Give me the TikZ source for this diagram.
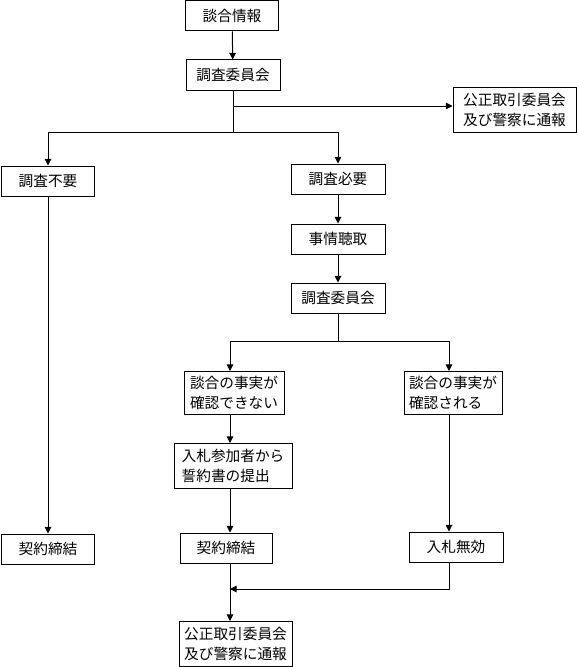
\documentclass[tikz,border=0pt]{standalone}
\usepackage{fontspec}
\setmainfont{Noto Sans CJK JP}
\usetikzlibrary{arrows.meta}
\begin{document}
\begin{tikzpicture}[x=0.75pt,y=-0.75pt,
    box/.style={draw,line width=0.75pt,inner sep=1pt,align=left,
      minimum height=22.5pt,font=\fontsize{11pt}{15pt}\selectfont},
    arr/.style={-{Triangle[length=5pt,width=5pt]},line width=0.75pt},
    ln/.style={line width=0.75pt}]
            \useasboundingbox (0,0) rectangle (577,667);
            \node[box,minimum width=69.75pt] (info) at (232,16) {談合情報};
            \node[box,minimum width=70.5pt] (comm) at (233,75) {調査委員会};
            \node[box,minimum width=92.25pt,minimum height=33pt] (report) at (514.5,110) {公正取引委員会\\及び警察に通報};
            \draw[arr] (info) -- (comm);
            \coordinate (split) at (233,132);
            \coordinate (toreport) at (233,106);
            \draw[ln] (comm) -- (split);
            \draw[arr] (toreport) -- (report.west |- toreport);

            \node[box,minimum width=69.75pt] (noneed) at (48,181) {調査不要};
            \node[box,minimum width=70.5pt] (need) at (338,179) {調査必要};
            \draw[arr] (split) -| (noneed);
            \draw[arr] (split) -| (need);

            \node[box,minimum width=70.5pt] (hear) at (338,239) {事情聴取};
            \node[box,minimum width=70.5pt] (comm2) at (338,298) {調査委員会};
            \draw[arr] (need) -- (hear);
            \draw[arr] (hear) -- (comm2);

            \coordinate (split2) at (338,341);
            \draw[ln] (comm2) -- (split2);
            \node[box,minimum width=75pt,minimum height=32.25pt] (notfound) at (234,393) {談合の事実が\\確認できない};
            \node[box,minimum width=73.5pt,minimum height=32.25pt] (found) at (453,393) {談合の事実が\\確認される};
            \coordinate (colM) at (230,0);
            \coordinate (colR) at (449,0);
            \draw[arr] (split2) -| (notfound.north -| colM);
            \draw[arr] (split2) -| (found.north -| colR);

            \node[box,minimum width=88.5pt,minimum height=33.75pt] (pledge) at (233,466) {入札参加者から\\誓約書の提出};
            \draw[arr] (notfound.south -| colM) -- (pledge.north -| colM);

            \node[box,minimum width=69.75pt] (contract) at (48,549) {契約締結};
            \node[box,minimum width=69pt] (contract2) at (226,548) {契約締結};
            \node[box,minimum width=70.5pt] (invalid) at (456,547) {入札無効};
            \draw[arr] (noneed) -- (contract);
            \draw[arr] (pledge.south -| colM) -- (contract2.north -| colM);
            \draw[arr] (found.south -| colR) -- (invalid.north -| colR);

            \node[box,minimum width=84.75pt,minimum height=33.75pt] (report2) at (235.5,644) {公正取引委員会\\及び警察に通報};
            \coordinate (join) at (230,589);
            \draw[arr] (contract2.south -| colM) -- (report2.north -| colM);
            \draw[arr] (invalid.south -| colR) |- (join);
        \end{tikzpicture}
\end{document}
